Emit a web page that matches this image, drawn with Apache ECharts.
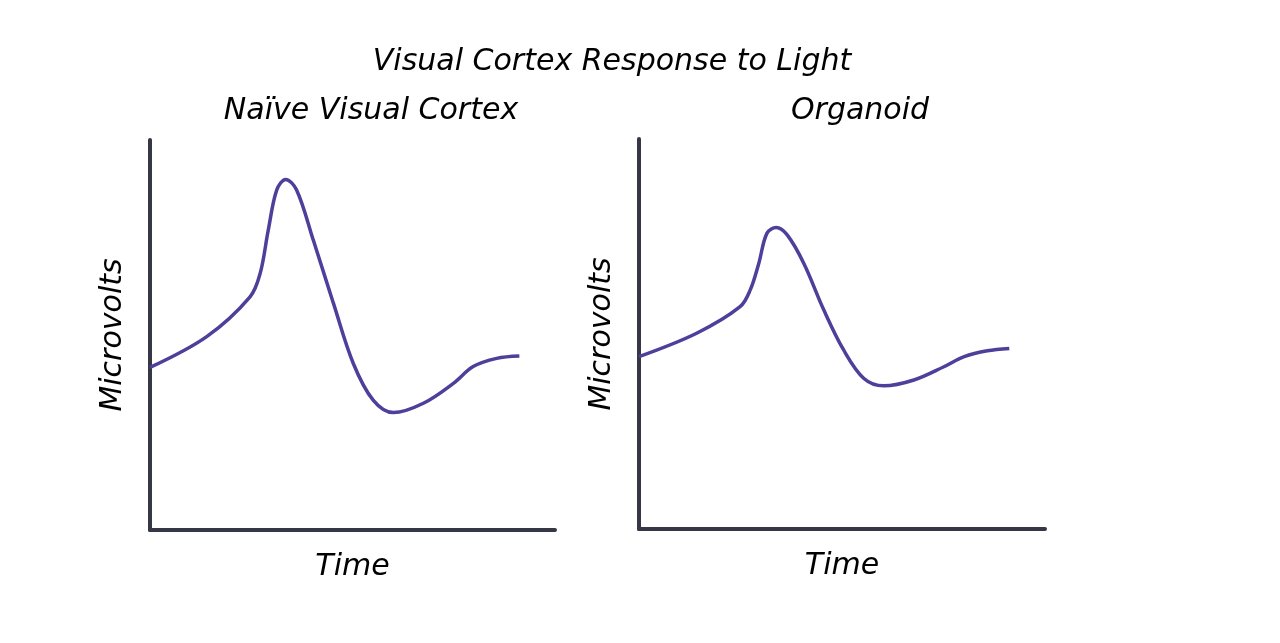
<!DOCTYPE html>
<html><head><meta charset="utf-8">
<script src="https://cdn.jsdelivr.net/npm/echarts@6/dist/echarts.min.js"></script>
<style>html,body{margin:0;padding:0;background:#fff}#c{width:1280px;height:643px}</style>
</head><body><div id="c"></div>
<script>
const mainTitle = "Visual Cortex Response to Light";
const panelTitles = ["Naïve Visual Cortex", "Organoid"];
const xName = "Time";
const yName = "Microvolts";

const naiveTime  = [0, 14, 24.7, 27.2, 29.2, 31.3, 33.5, 36.2, 40.3, 45.3, 50.2, 55.1, 60.1, 67.5, 74.9, 79.8, 85.6, 91.2];
const naiveVolts = [41.7, 49.6, 59.8, 65.8, 76.9, 87.2, 89.9, 87.2, 74.4, 58.1, 42.7, 33.3, 30.1, 32.5, 37.6, 41.9, 44.0, 44.6];
const orgTime  = [0, 14.2, 24.9, 27.4, 29.5, 31.5, 33.8, 36.5, 40.6, 45.5, 50.4, 55.4, 60.3, 67.7, 75.1, 80.1, 85.8, 91.2];
const orgVolts = [44.2, 50.2, 57.0, 61.3, 68.1, 75.8, 77.3, 75.4, 68.1, 56.2, 45.9, 38.6, 36.7, 38.2, 41.6, 44.2, 45.7, 46.3];

const FONT = "DejaVu Sans";
const axisColor = "#353844";
const lineColor = "#4f3f9b";

function pairs(xs, ys){ return xs.map((x,i)=>[x, ys[i]]); }

const chart = echarts.init(document.getElementById('c'));
const grids = [
  {left:150, top:140, width:405, height:390},
  {left:639, top:139, width:406, height:390}
];
const textStyle = {fontFamily: FONT, fontStyle:'italic', color:'#000', fontWeight:'normal'};
const fs = 30;
chart.setOption({
  backgroundColor:'#fff',
  animation:false,
  title:[
    {text: mainTitle, left:607, top:42, textAlign:'center', textStyle:Object.assign({}, textStyle, {fontSize:fs})},
    {text: panelTitles[0], left:366, top:91, textAlign:'center', textStyle:Object.assign({}, textStyle, {fontSize:fs})},
    {text: panelTitles[1], left:855, top:91, textAlign:'center', textStyle:Object.assign({}, textStyle, {fontSize:fs})}
  ],
  grid: grids,
  xAxis: [0,1].map(i=>({
    type:'value', gridIndex:i, min:0, max:100,
    name:xName, nameLocation:'middle', nameGap:22,
    nameTextStyle:Object.assign({}, textStyle, {fontSize:fs}),
    axisLine:{show:true, lineStyle:{color:axisColor, width:4}},
    axisTick:{show:false}, axisLabel:{show:false}, splitLine:{show:false}
  })),
  yAxis: [0,1].map(i=>({
    type:'value', gridIndex:i, min:0, max:100,
    name:yName, nameLocation:'middle', nameGap:22,
    nameTextStyle:Object.assign({}, textStyle, {fontSize:fs}),
    axisLine:{show:true, lineStyle:{color:axisColor, width:4}},
    axisTick:{show:false}, axisLabel:{show:false}, splitLine:{show:false}
  })),
  series:[
    {type:'line', xAxisIndex:0, yAxisIndex:0, data:pairs(naiveTime, naiveVolts), smooth:0.35, showSymbol:false, lineStyle:{color:lineColor, width:3.5}},
    {type:'line', xAxisIndex:1, yAxisIndex:1, data:pairs(orgTime, orgVolts), smooth:0.35, showSymbol:false, lineStyle:{color:lineColor, width:3.5}}
  ]
});
</script></body></html>
